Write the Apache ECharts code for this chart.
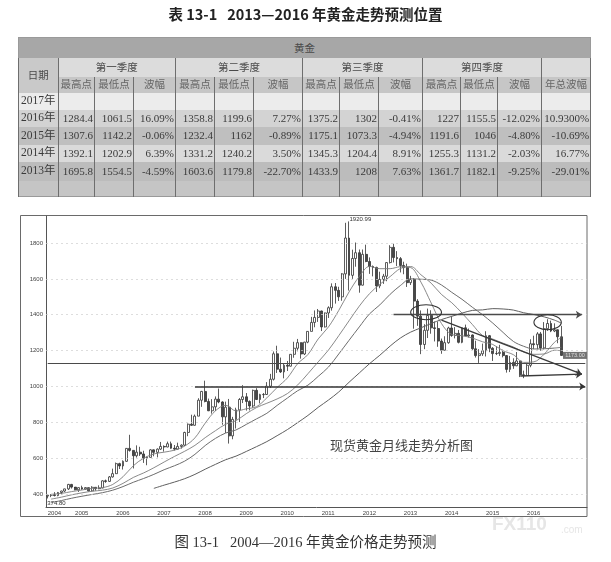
<!DOCTYPE html>
<html>
<head>
<meta charset="utf-8">
<script src="https://cdn.jsdelivr.net/npm/echarts@6/dist/echarts.min.js"></script>
<style>
html,body{margin:0;padding:0;background:#fff;}
#wrap{position:relative;width:611px;height:562px;overflow:hidden;background:#fff;}
#chart{position:absolute;left:0;top:0;width:611px;height:562px;}
#tbl{position:absolute;left:18px;top:37px;width:572px;border-collapse:collapse;table-layout:fixed;
  font-family:"Liberation Serif","Noto Sans CJK SC",serif;font-size:11px;color:#3a3a3a;border:1px solid #9a9a9a;}
#tbl td{padding:0;white-space:nowrap;overflow:hidden;line-height:1;border-left:1px solid #6e6e6e;border-right:1px solid #6e6e6e;}
#tbl td.h{font-family:"Noto Sans CJK SC",sans-serif;font-size:10.5px;text-align:center;color:#4a4a4a;}
#tbl td.s{color:#666;}
#tbl td.n{text-align:right;padding-right:1px;}
#tbl td.y{text-align:left;padding-left:2px;font-size:11.5px;}
#tbl tr.band td{background:#a7a7a7;border-left:none;border-right:none;}
#tbl tr.qrow td{background:#dcdcdc;}
#tbl tr.qrow td.date{background:#c9c9c9;}
#tbl tr.sub td{background:#c6c6c6;}
#tbl tr.r0 td{background:#ececec;}
#tbl tr.r1 td{background:#d3d3d3;}
#tbl tr.r2 td{background:#bfbfbf;}
#tbl tr.r3 td{background:#dadada;}
#tbl tr.r4 td{background:#bcbcbc;}
#tbl tr.blank td{background:#c5c5c5;}
</style>
</head>
<body>
<div id="wrap">
  <div id="chart"></div>
  <table id="tbl"></table>
</div>
<script>
// ---------------- table data ----------------
const tableGroupTitle = '黄金';
const dateHead = '日期';
const quarterNames = ['第一季度', '第二季度', '第三季度', '第四季度'];
const subHeads = ['最高点', '最低点', '波幅'];
const yearTotalHead = '年总波幅';
const rowYears = ['2017年', '2016年', '2015年', '2014年', '2013年'];
const row2017 = ['', '', '', '', '', '', '', '', '', '', '', '', ''];
const row2016 = ['1284.4', '1061.5', '16.09%', '1358.8', '1199.6', '7.27%', '1375.2', '1302', '-0.41%', '1227', '1155.5', '-12.02%', '10.9300%'];
const row2015 = ['1307.6', '1142.2', '-0.06%', '1232.4', '1162', '-0.89%', '1175.1', '1073.3', '-4.94%', '1191.6', '1046', '-4.80%', '-10.69%'];
const row2014 = ['1392.1', '1202.9', '6.39%', '1331.2', '1240.2', '3.50%', '1345.3', '1204.4', '8.91%', '1255.3', '1131.2', '-2.03%', '16.77%'];
const row2013 = ['1695.8', '1554.5', '-4.59%', '1603.6', '1179.8', '-22.70%', '1433.9', '1208', '7.63%', '1361.7', '1182.1', '-9.25%', '-29.01%'];

// ---------------- chart data ----------------
const chartTitle = '表 13-1   2013—2016 年黄金走势预测位置';
const figCaption = '图 13-1   2004—2016 年黄金价格走势预测';
const chartNote = '现货黄金月线走势分析图';
const firstMonth = [2004, 5];
const monthSlots = 158;           // candles + empty room at the right
const yTicks = [400, 600, 800, 1000, 1200, 1400, 1600, 1800];

// monthly candles [open, close, low, high]
const ohlc2004 = [[388,393,374.8,396],[393,395,382,398],[395,391,386,410],[391,408,387,411],[408,416,397,418],[416,428,411,429],[428,453,422,456],[453,438,430,456]];
const ohlc2005 = [[438,423,420,433],[423,435,411,437],[435,428,423,446],[428,435,422,438],[435,417,414,436],[417,437,414,443],[437,429,418,438],[429,433,426,448],[433,473,432,476],[473,470,462,480],[470,495,467,500],[495,513,491,541]];
const ohlc2006 = [[513,569,511,575],[569,556,539,574],[556,582,536,587],[582,654,579,656],[654,643,636,730],[643,613,542,645],[613,633,603,671],[633,623,612,663],[623,599,573,641],[599,604,560,608],[604,646,603,650],[646,632,610,648]];
const ohlc2007 = [[632,650,604,654],[650,665,645,690],[665,662,636,671],[662,680,660,692],[680,655,652,692],[655,650,642,673],[650,665,647,686],[665,672,653,677],[672,743,667,747],[743,789,722,793],[789,783,779,842],[783,834,781,843]];
const ohlc2008 = [[834,923,834,934],[923,972,886,975],[972,916,911,1032],[916,864,862,932],[864,886,848,929],[886,929,863,944],[929,913,906,988],[913,830,786,917],[830,884,740,915],[884,724,681,930],[724,816,705,830],[816,869,765,881]];
const ohlc2009 = [[869,927,801,935],[927,942,907,1007],[942,916,865,963],[916,891,866,922],[891,978,881,982],[978,927,924,990],[927,954,905,959],[954,955,935,963],[955,1001,952,1024],[1001,1040,991,1070],[1040,1182,1033,1195],[1182,1096,1075,1227]];
const ohlc2010 = [[1096,1081,1075,1161],[1081,1118,1045,1128],[1118,1113,1086,1142],[1113,1179,1111,1180],[1179,1213,1160,1249],[1213,1244,1196,1265],[1244,1181,1155,1246],[1181,1247,1175,1249],[1247,1307,1241,1308],[1307,1357,1307,1388],[1357,1385,1330,1424],[1385,1421,1360,1432]];
const ohlc2011 = [[1421,1332,1309,1423],[1332,1410,1329,1412],[1410,1439,1382,1447],[1439,1556,1423,1575],[1556,1536,1462,1577],[1536,1500,1477,1556],[1500,1628,1478,1632],[1628,1828,1600,1913],[1828,1620,1535,1920.99],[1620,1714,1600,1763],[1714,1746,1668,1803],[1746,1565,1523,1764]];
const ohlc2012 = [[1565,1737,1563,1764],[1737,1697,1693,1791],[1697,1669,1628,1720],[1669,1664,1614,1675],[1664,1561,1527,1668],[1561,1597,1548,1640],[1597,1615,1572,1628],[1615,1691,1587,1693],[1691,1776,1686,1788],[1776,1719,1692,1796],[1719,1713,1672,1755],[1713,1675,1636,1722]];
const ohlc2013 = [[1675,1663,1626,1696],[1663,1579,1555,1685],[1579,1597,1566,1617],[1597,1476,1322,1604],[1476,1392,1338,1487],[1392,1234,1180,1424],[1234,1313,1208,1347],[1313,1396,1270,1434],[1396,1327,1294,1425],[1327,1323,1251,1362],[1323,1253,1221,1362],[1253,1202,1182,1267]];
const ohlc2014 = [[1202,1244,1200,1280],[1244,1326,1238,1333],[1326,1284,1277,1392],[1284,1296,1268,1331],[1296,1246,1240,1315],[1246,1327,1241,1328],[1327,1282,1281,1345],[1282,1287,1273,1323],[1287,1210,1204,1290],[1210,1172,1161,1255],[1172,1182,1131,1208],[1182,1199,1170,1239]];
const ohlc2015 = [[1199,1283,1167,1308],[1283,1213,1191,1287],[1213,1183,1142,1219],[1183,1184,1175,1224],[1184,1190,1170,1232],[1190,1172,1162,1205],[1172,1095,1077,1175],[1095,1134,1080,1170],[1134,1115,1098,1157],[1115,1142,1113,1192],[1142,1065,1052,1142],[1065,1061,1046,1088]];
const ohlc2016 = [[1061,1118,1060,1128],[1118,1238,1107,1263],[1238,1233,1208,1283],[1233,1293,1207,1303],[1293,1215,1199,1304],[1215,1322,1207,1359],[1322,1351,1310,1375],[1351,1309,1303,1367],[1309,1316,1303,1352],[1316,1277,1241,1318],[1277,1173,1171,1338]];

// moving-average lines, read at quarter ends
const maDates = ['2004-06','2004-09','2004-12',
 '2005-03','2005-06','2005-09','2005-12','2006-03','2006-06','2006-09','2006-12',
 '2007-03','2007-06','2007-09','2007-12','2008-03','2008-06','2008-09','2008-12',
 '2009-03','2009-06','2009-09','2009-12','2010-03','2010-06','2010-09','2010-12',
 '2011-03','2011-06','2011-09','2011-12','2012-03','2012-06','2012-09','2012-12',
 '2013-03','2013-06','2013-09','2013-12','2014-03','2014-06','2014-09','2014-12',
 '2015-03','2015-06','2015-09','2015-12','2016-03','2016-06','2016-09','2016-11'];
const ma10 = [398,403,413, 422,431,435,453, 496,557,599,623, 633,644,667,713, 795,864,895,863,
 875,887,936,994, 1047,1127,1178,1265, 1332,1424,1527,1613, 1670,1657,1657,1668,
 1663,1582,1465,1351, 1290,1283,1270,1249, 1234,1199,1177,1134, 1137,1180,1246,1273];
const ma20 = [371,382,395, 406,415,421,433, 459,492,517,546, 578,609,638,671, 714,753,789,809,
 848,882,906,930, 960,1008,1071,1137, 1203,1283,1366,1448, 1518,1570,1613,1658,
 1669,1623,1576,1513, 1467,1409,1346,1284, 1264,1241,1220,1192, 1179,1181,1202,1199];
const ma30 = [352,363,376, 387,397,407,421, 441,465,486,509, 535,557,583,621, 670,710,740,757,
 788,819,850,894, 935,976,1007,1056, 1108,1181,1257,1332, 1405,1455,1514,1563,
 1600,1598,1593,1566, 1525,1486,1442,1400, 1353,1301,1251,1224, 1209,1210,1214,1218];
const ma60 = [null,null,null, null,null,null,null, null,null,null,431, 449,466,485,509, 538,565,591,611,
 637,664,692,725, 759,798,838,883, 924,969,1023,1075, 1127,1174,1225,1270,
 1303,1327,1351,1373, 1391,1409,1424,1427, 1434,1432,1426,1411, 1401,1388,1370,1353];

// drawn annotations (in data units)
const levelValues = [1132, 1000, 1400];
const levelFrom = ['2004-05', '2007-12', '2012-10'];
const levelTo = ['2017-06', '2017-06', '2017-05'];
const trendFrom = [['2013-12', 1370], ['2015-11', 1058]];
const trendTo = [['2017-05', 1068], ['2017-05', 1068]];
const ellipses = [['2013-03', '2013-12', 1372, 1456], ['2016-03', '2016-11', 1316, 1400]];
const lowMark = ['2004-05', 374.8];
const highMark = ['2011-09', 1920.99];
const priceBoxAt = '2017-03';

// ---------------- build table ----------------
(function buildTable() {
  const colW = [39.6, 36.4, 39, 42, 39, 39, 49, 37, 39, 44, 38, 37, 44, 49];
  const rowH = [20, 19, 16, 17, 17, 18, 17, 19, 16];
  let h = '<colgroup>' + colW.map(w => '<col style="width:' + w + 'px">').join('') + '</colgroup>';
  h += '<tr class="band" style="height:' + rowH[0] + 'px"><td class="h" colspan="14">' + tableGroupTitle + '</td></tr>';
  h += '<tr class="qrow" style="height:' + rowH[1] + 'px"><td class="h date" rowspan="2">' + dateHead + '</td>' +
       quarterNames.map(q => '<td class="h" colspan="3">' + q + '</td>').join('') + '<td></td></tr>';
  let sub = '';
  for (let q = 0; q < 4; q++) sub += subHeads.map(s => '<td class="h s">' + s + '</td>').join('');
  h += '<tr class="sub" style="height:' + rowH[2] + 'px">' + sub + '<td class="h s">' + yearTotalHead + '</td></tr>';
  const rows = [row2017, row2016, row2015, row2014, row2013];
  rows.forEach((r, i) => {
    h += '<tr class="r' + i + '" style="height:' + rowH[3 + i] + 'px"><td class="y">' + rowYears[i] + '</td>' +
         r.map(v => '<td class="n">' + v + '</td>').join('') + '</tr>';
  });
  h += '<tr class="blank" style="height:' + rowH[8] + 'px">' + '<td></td>'.repeat(14) + '</tr>';
  document.getElementById('tbl').innerHTML = h;
})();

// ---------------- build chart ----------------
const candles = [].concat(ohlc2004, ohlc2005, ohlc2006, ohlc2007, ohlc2008, ohlc2009, ohlc2010,
  ohlc2011, ohlc2012, ohlc2013, ohlc2014, ohlc2015, ohlc2016);
const months = [];
for (let i = 0; i < monthSlots; i++) {
  const t = firstMonth[0] * 12 + (firstMonth[1] - 1) + i;
  const y = Math.floor(t / 12), m = t % 12 + 1;
  months.push(y + '-' + (m < 10 ? '0' : '') + m);
}
const lastIdx = candles.length - 1;
const lastClose = candles[lastIdx][1];

const chart = echarts.init(document.getElementById('chart'), null, { renderer: 'canvas' });

function maSeries(vals, color, width) {
  return {
    type: 'line', data: maDates.map((d, i) => [d, vals[i]]), smooth: 0.35, symbol: 'none',
    lineStyle: { color: color, width: width }, silent: true, z: 3
  };
}

const levelLines = levelValues.map((v, i) => {
  const arrow = i > 0;
  return [
    { coord: [levelFrom[i], v], symbol: 'none' },
    { coord: [levelTo[i], v], symbol: arrow ? 'arrow' : 'none', symbolSize: arrow ? 6 : 0,
      lineStyle: { color: i === 1 ? '#333' : '#4a4a4a', width: i === 0 ? 1 : (i === 1 ? 1.7 : 1.3), type: 'solid' } }
  ];
});
const trendLines = trendFrom.map((p, i) => [
  { coord: p, symbol: 'none' },
  { coord: trendTo[i], symbol: 'arrow', symbolSize: 6, lineStyle: { color: '#3a3a3a', width: 1.3, type: 'solid' } }
]);

const option = {
  animation: false,
  backgroundColor: 'transparent',
  grid: { left: 46, right: 24, top: 216, bottom: 55, containLabel: false, outerBoundsMode: 'none' },
  xAxis: {
    type: 'category', data: months, boundaryGap: true,
    axisLine: { show: true, lineStyle: { color: '#555', width: 1 } },
    axisTick: { show: false },
    axisLabel: {
      interval: function (i, v) { return i === 0 || (v.slice(5) === '01' && i <= lastIdx); },
      formatter: function (v) { return v.slice(0, 4); },
      align: 'left', fontSize: 6, color: '#444', margin: 3, fontFamily: 'Liberation Sans'
    },
    splitLine: { show: false }
  },
  yAxis: {
    type: 'value', min: 327, max: 1951, position: 'left', scale: true,
    axisLine: { show: true, lineStyle: { color: '#555', width: 1 } },
    axisTick: { show: false, customValues: yTicks },
    axisLabel: { customValues: yTicks, formatter: function (v) { return String(v); }, fontSize: 6, color: '#444', margin: 3, fontFamily: 'Liberation Sans' },
    splitLine: { show: false }
  },
  graphic: [
    { type: 'text', left: 'center', top: 7, style: { text: chartTitle, fontFamily: 'Noto Sans CJK SC', fontWeight: 'bold', fontSize: 14.5, fill: '#222' } },
    { type: 'rect', shape: { x: 20.5, y: 215.5, width: 566.5, height: 301 }, style: { fill: 'none', stroke: '#6a6a6a', lineWidth: 1 }, z: 0 },
    { type: 'text', left: 330, top: 439, style: { text: chartNote, fontFamily: 'Noto Sans CJK SC', fontSize: 13, fill: '#444' }, z: 10 },
    { type: 'text', left: 'center', top: 536, style: { text: figCaption, fontFamily: '"Liberation Serif","Noto Sans CJK SC"', fontSize: 14.5, fill: '#333' } },
    { type: 'text', left: 492, top: 515, style: { text: 'FX110', fontFamily: 'Liberation Sans', fontWeight: 'bold', fontSize: 19, fill: '#e6e6e6' }, z: 20 },
    { type: 'text', left: 561, top: 525, style: { text: '.com', fontFamily: 'Liberation Sans', fontSize: 10, fill: '#e6e6e6' }, z: 20 }
  ],
  series: [
    {
      type: 'line', data: [], silent: true, z: 1,
      markLine: {
        silent: true, symbol: ['none', 'none'], label: { show: false },
        lineStyle: { color: '#cfcfcf', type: [2, 3], width: 0.7 },
        data: yTicks.map(v => ({ yAxis: v }))
      }
    },
    {
      type: 'candlestick', data: candles, barWidth: 2.4, z: 2,
      itemStyle: { color: '#ffffff', color0: '#484848', borderColor: '#333', borderColor0: '#333', borderWidth: 0.8 },
      markPoint: {
        silent: true,
        data: [
          { coord: lowMark, symbol: 'rect', symbolSize: 1, itemStyle: { color: 'rgba(0,0,0,0)' },
            label: { show: true, formatter: lowMark[1].toFixed(2), position: [0, 2], fontSize: 6, color: '#333', fontFamily: 'Liberation Sans' } },
          { coord: highMark, symbol: 'rect', symbolSize: 1, itemStyle: { color: 'rgba(0,0,0,0)' },
            label: { show: true, formatter: highMark[1].toFixed(2), position: [1, -5], fontSize: 6, color: '#333', fontFamily: 'Liberation Sans' } },
          { coord: [priceBoxAt, lastClose], symbol: 'rect', symbolSize: [24, 7], itemStyle: { color: '#727272' },
            label: { show: true, formatter: lastClose.toFixed(2), position: 'inside', fontSize: 5.5, color: '#dedede', fontFamily: 'Liberation Sans' } }
        ]
      }
    },
    maSeries(ma10, '#7c7c7c', 0.9),
    maSeries(ma20, '#7c7c7c', 0.9),
    maSeries(ma30, '#6c6c6c', 1),
    maSeries(ma60, '#5e5e5e', 1),
    {
      type: 'line', data: [], silent: true, z: 4,
      markLine: {
        silent: true, symbol: ['none', 'none'], label: { show: false },
        lineStyle: { color: '#444', width: 1, type: 'solid' },
        data: levelLines.concat(trendLines)
      }
    },
    {
      type: 'custom', silent: true, z: 5,
      data: ellipses.map(e => [months.indexOf(e[0]), e[2]]),
      renderItem: function (params, api) {
        const e = ellipses[params.dataIndex];
        const p0 = api.coord([months.indexOf(e[0]), e[3]]);
        const p1 = api.coord([months.indexOf(e[1]), e[2]]);
        return {
          type: 'ellipse',
          shape: { cx: (p0[0] + p1[0]) / 2, cy: (p0[1] + p1[1]) / 2, rx: Math.abs(p1[0] - p0[0]) / 2, ry: Math.abs(p1[1] - p0[1]) / 2 },
          style: { fill: 'none', stroke: '#333', lineWidth: 1.1 }
        };
      }
    }
  ]
};
chart.setOption(option);
</script>
</body>
</html>
